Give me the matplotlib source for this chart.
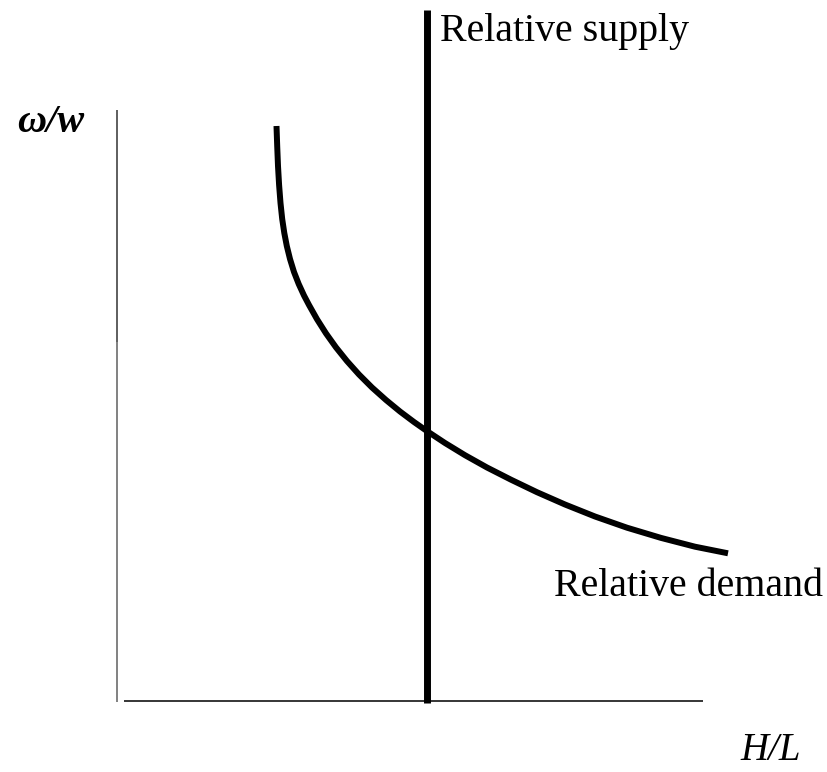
import matplotlib
matplotlib.use("Agg")
import matplotlib.pyplot as plt

# Data (chart units: x = H/L position, y = omega/w height; origin bottom-left of canvas)
demand_x = [276.5, 277.2, 278, 279.1, 280.5, 282.2, 284.3, 286.8, 290, 294, 298.7, 304, 309, 317, 326, 336, 347,
            359, 372, 386, 400, 414, 427, 445, 465, 487, 511, 537, 565, 595, 627, 661, 695, 728]
demand_y = [646, 626, 606, 587, 569, 553, 539, 526, 513, 500, 488, 476.5, 467, 452.8, 438.6, 424.6, 410.9,
            397.5, 384.5, 372, 360.5, 350, 340.9, 329, 316.8, 304.5, 292.3, 279.8, 267.5, 255.5, 244.3, 234.1,
            225.3, 218.7]
supply_x = 427
supply_span = (69, 762)
yaxis_x = 117
yaxis_span = (70, 662)
yaxis_split = 430
xaxis_y = 71
xaxis_span = (124, 703)

labels = {
    "supply": "Relative supply",
    "demand": "Relative demand",
    "ylab": "ω/w",
    "xlab": "H/L",
}

fig = plt.figure(figsize=(8.28, 7.72), dpi=100)
ax = fig.add_axes([0, 0, 1, 1])
ax.set_xlim(0, 828)
ax.set_ylim(0, 772)
ax.axis("off")

# axes
ax.plot([yaxis_x, yaxis_x], [yaxis_split, yaxis_span[1]], color="#333333", lw=1.1, solid_capstyle="butt")
ax.plot([yaxis_x, yaxis_x], [yaxis_span[0], yaxis_split], color="#777777", lw=1.3, solid_capstyle="butt")
ax.plot(list(xaxis_span), [xaxis_y, xaxis_y], color="black", lw=1.1, solid_capstyle="butt")

# demand curve
ax.plot(demand_x, demand_y, color="black", lw=4.3, solid_capstyle="butt", solid_joinstyle="round")
# supply line
ax.plot([supply_x, supply_x], list(supply_span), color="black", lw=5.0, solid_capstyle="butt")

serif = ["Liberation Serif", "DejaVu Serif"]
ax.text(440, 740, labels["supply"], family=serif, fontsize=28.7, ha="left", va="center")
ax.text(554, 185, labels["demand"], family=serif, fontsize=28.7, ha="left", va="center")
ax.text(17, 650, labels["ylab"], family=serif, fontsize=29, style="italic", weight="bold", ha="left", va="center")
ax.text(740, 21, labels["xlab"], family=serif, fontsize=28, style="italic", ha="left", va="center")

fig.savefig("out.png", dpi=100)
